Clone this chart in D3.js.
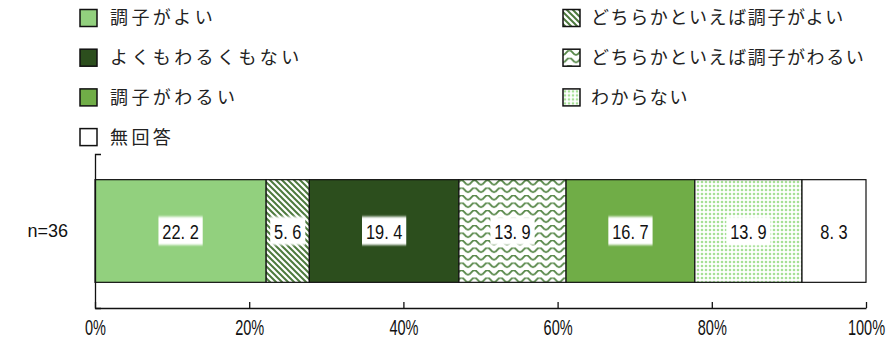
<!DOCTYPE html>
<html><head><meta charset="utf-8">
<script src="https://cdn.jsdelivr.net/npm/d3@7/dist/d3.min.js"></script>
<style>
html,body{margin:0;padding:0;background:#fff;}
svg{display:block;}
.jp{font-family:"Noto Sans CJK JP","Noto Sans",sans-serif;}
.num{font-family:"Liberation Sans",Arial,sans-serif;}
</style></head>
<body>
<svg id="chart" width="891" height="347"></svg>
<script>
const categories = ["n=36"];
const seriesNames = ["調子がよい","どちらかといえば調子がよい","よくもわるくもない","どちらかといえば調子がわるい","調子がわるい","わからない","無回答"];
const values = [22.2, 5.6, 19.4, 13.9, 16.7, 13.9, 8.3];
const tickValues = [0, 20, 40, 60, 80, 100];
const tickLabels = ["0%","20%","40%","60%","80%","100%"];

const fills = ["#92d07e","url(#pStripe)","#2c4e1d","url(#pWave)","#70ad47","url(#pDots)","#ffffff"];

const svg = d3.select("#chart");
const defs = svg.append("defs");

const ps = defs.append("pattern").attr("id","pStripe").attr("patternUnits","userSpaceOnUse")
  .attr("width",6).attr("height",6);
ps.append("rect").attr("width",6).attr("height",6).attr("fill","#fff");
ps.append("path").attr("d","M0,0 L6,6 M-1,5 L1,7 M5,-1 L7,1")
  .attr("stroke","#4d7a3d").attr("stroke-width",2);

const pw = defs.append("pattern").attr("id","pWave").attr("patternUnits","userSpaceOnUse")
  .attr("width",13).attr("height",7.5);
pw.append("rect").attr("width",13).attr("height",7.5).attr("fill","#fff");
pw.append("path").attr("d","M-3.25,2.5 Q0,7 3.25,2.5 Q6.5,-2 9.75,2.5 Q13,7 16.25,2.5")
  .attr("fill","none").attr("stroke","#58884a").attr("stroke-width",1.8);

const pd = defs.append("pattern").attr("id","pDots").attr("patternUnits","userSpaceOnUse")
  .attr("width",4).attr("height",4);
pd.append("rect").attr("width",4).attr("height",4).attr("fill","#fff");
pd.append("circle").attr("cx",2).attr("cy",2).attr("r",1.3).attr("fill","#a6e096");

const glow = defs.append("filter").attr("id","soft").attr("x","-20%").attr("y","-20%").attr("width","140%").attr("height","140%");
glow.append("feGaussianBlur").attr("stdDeviation",0.8);

const x = d3.scaleLinear().domain([0,100]).range([95,866]);
const y = d3.scaleBand().domain(categories).range([154,308]).paddingInner(0.2).paddingOuter(0.2);

let acc = 0;
const segs = values.map((v,i)=>{ const s={name:seriesNames[i],v,x0:acc,x1:acc+v,i}; acc+=v; return s; });

const g = svg.append("g");
g.selectAll("rect.seg").data(segs).join("rect").attr("class","seg")
  .attr("x",d=>x(d.x0)).attr("width",d=>x(Math.min(d.x1,100))-x(d.x0))
  .attr("y",y(categories[0])).attr("height",y.bandwidth())
  .attr("fill",d=>fills[d.i]).attr("stroke","#111").attr("stroke-width",1.2);

const lab = g.selectAll("g.lab").data(segs).join("g").attr("class","lab")
  .attr("transform",d=>`translate(${x((d.x0+Math.min(d.x1,100))/2)},${y(categories[0])+y.bandwidth()/2})`);
const labInner = lab.append("g").attr("transform","scale(0.78,1)");
labInner.append("text").attr("class","num").attr("text-anchor","middle").attr("dy","0.36em")
  .attr("font-size",21).attr("fill","#111").text(d=>d.v.toFixed(1).replace(".",". "));
labInner.each(function(){
  const t=d3.select(this).select("text"); const b=t.node().getBBox();
  d3.select(this).insert("rect","text").attr("x",b.x-5).attr("y",b.y-3)
    .attr("width",b.width+10).attr("height",b.height+5).attr("fill","#fff").attr("filter","url(#soft)");
});

const xAxis = d3.axisBottom(x).tickValues(tickValues).tickFormat((d,i)=>tickLabels[i])
  .tickSize(-6).tickSizeOuter(0).tickPadding(11);
const xg = svg.append("g").attr("transform","translate(0,308)").call(xAxis);
xg.selectAll("line,path").attr("stroke","#111").attr("stroke-width",1.3);
xg.selectAll(".tick text").each(function(){
  const t=d3.select(this);
  t.attr("class","num").attr("font-size",22).attr("fill","#111")
   .attr("transform",`translate(0,${t.attr("y")}) scale(0.66,1) translate(0,${-t.attr("y")})`);
});

const yAxis = d3.axisLeft(y).tickSize(0).tickSizeOuter(-6).tickPadding(27);
const yg = svg.append("g").attr("transform","translate(95,0)").call(yAxis);
yg.selectAll("text").attr("font-family","'Liberation Sans',Arial,sans-serif").attr("font-size",18).attr("fill","#111");
yg.selectAll("path").attr("stroke","#111").attr("stroke-width",1.3);

const legCols = [80, 563];
const legRow0 = 18, legStep = 39.7;
const leg = svg.append("g").selectAll("g").data(seriesNames).join("g")
  .attr("transform",(d,i)=>`translate(${legCols[i%2]},${legRow0+Math.floor(i/2)*legStep})`);
leg.append("rect").attr("x",0).attr("y",-8.5).attr("width",17).attr("height",17)
  .attr("fill",(d,i)=>fills[i]).attr("stroke","#111").attr("stroke-width",1.5);
leg.append("text").attr("class","jp").attr("x",(d,i)=>i%2?28:30).attr("dy","0.36em")
  .attr("font-size",18).attr("letter-spacing",(d,i)=>i%2?1.6:3.4).attr("fill","#222").text(d=>d);
</script>
</body></html>
